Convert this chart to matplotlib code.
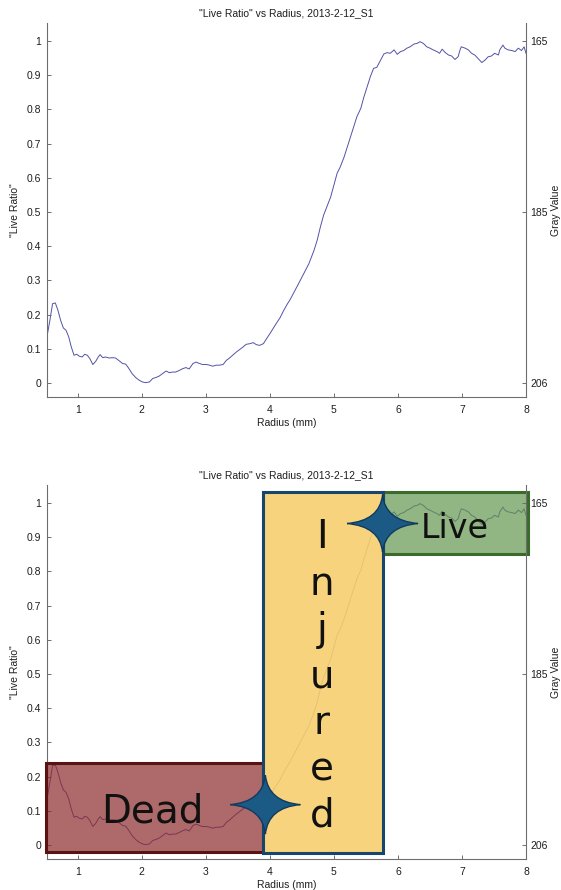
import matplotlib
matplotlib.use("Agg")
import matplotlib.pyplot as plt
from matplotlib.path import Path
from matplotlib.patches import PathPatch, Rectangle
from matplotlib.transforms import ScaledTranslation

plt.rcParams['font.family'] = ['Liberation Sans', 'DejaVu Sans']

# ---------------- data ----------------
radius = [0.524, 0.565, 0.607, 0.650, 0.690, 0.733, 0.775, 0.817, 0.859, 0.900,
          0.942, 0.984, 1.026, 1.068, 1.110, 1.150, 1.190, 1.236, 1.280, 1.320,
          1.350, 1.390, 1.430, 1.490, 1.540, 1.590, 1.640, 1.700, 1.750, 1.800,
          1.850, 1.910, 1.960, 2.010, 2.060, 2.120, 2.170, 2.220, 2.270, 2.320,
          2.380, 2.430, 2.480, 2.530, 2.590, 2.640, 2.690, 2.740, 2.800, 2.850,
          2.900, 2.950, 3.010, 3.060, 3.110, 3.160, 3.210, 3.270, 3.320, 3.370,
          3.420, 3.480, 3.530, 3.580, 3.630, 3.690, 3.740, 3.790, 3.840, 3.900,
          3.950, 4.000, 4.050, 4.100, 4.160, 4.210, 4.270, 4.320, 4.380, 4.450,
          4.530, 4.610, 4.690, 4.740, 4.790, 4.840, 4.900, 4.950, 5.000, 5.050,
          5.100, 5.160, 5.210, 5.260, 5.310, 5.360, 5.420, 5.470, 5.520, 5.570,
          5.620, 5.670, 5.730, 5.780, 5.830, 5.880, 5.940, 5.990, 6.040, 6.090,
          6.140, 6.190, 6.250, 6.300, 6.345, 6.397, 6.450, 6.500, 6.550, 6.610,
          6.650, 6.690, 6.740, 6.790, 6.840, 6.890, 6.940, 6.970, 6.990, 7.050,
          7.100, 7.150, 7.200, 7.250, 7.310, 7.360, 7.410, 7.460, 7.510, 7.570,
          7.590, 7.640, 7.670, 7.720, 7.780, 7.830, 7.880, 7.930, 7.970, 8.000]
live_ratio = [0.140, 0.183, 0.232, 0.234, 0.213, 0.183, 0.161, 0.154, 0.135, 0.105,
              0.081, 0.084, 0.078, 0.076, 0.084, 0.081, 0.071, 0.054, 0.063, 0.076,
              0.083, 0.074, 0.076, 0.073, 0.074, 0.073, 0.066, 0.057, 0.055, 0.042,
              0.027, 0.015, 0.008, 0.003, 0.001, 0.003, 0.013, 0.016, 0.020, 0.027,
              0.035, 0.030, 0.032, 0.032, 0.037, 0.042, 0.045, 0.041, 0.057, 0.061,
              0.057, 0.054, 0.054, 0.052, 0.049, 0.052, 0.052, 0.054, 0.066, 0.073,
              0.081, 0.091, 0.098, 0.105, 0.113, 0.115, 0.118, 0.112, 0.110, 0.115,
              0.130, 0.144, 0.159, 0.174, 0.191, 0.210, 0.230, 0.245, 0.266, 0.291,
              0.320, 0.349, 0.388, 0.418, 0.457, 0.491, 0.520, 0.544, 0.579, 0.613,
              0.632, 0.661, 0.691, 0.720, 0.749, 0.779, 0.803, 0.837, 0.866, 0.896,
              0.920, 0.923, 0.944, 0.962, 0.966, 0.964, 0.974, 0.961, 0.969, 0.972,
              0.979, 0.983, 0.991, 0.993, 0.998, 0.993, 0.983, 0.979, 0.974, 0.969,
              0.964, 0.976, 0.966, 0.959, 0.956, 0.946, 0.954, 0.974, 0.983, 0.979,
              0.974, 0.964, 0.959, 0.949, 0.937, 0.944, 0.954, 0.956, 0.964, 0.959,
              0.974, 0.988, 0.979, 0.974, 0.972, 0.969, 0.979, 0.972, 0.983, 0.964]

title_text = '"Live Ratio" vs Radius, 2013-2-12_S1'
x_ticks = [1, 2, 3, 4, 5, 6, 7, 8]
y_ticks = [0, 0.1, 0.2, 0.3, 0.4, 0.5, 0.6, 0.7, 0.8, 0.9, 1.0]
y_tick_labels = ['0', '0.1', '0.2', '0.3', '0.4', '0.5', '0.6', '0.7', '0.8', '0.9', '1']
gray_tick_pos = [0, 0.5, 1.0]
gray_tick_labels = ['206', '185', '165']

# annotation zones (data coords: x0, x1, y0, y1)
zone_names = ['Dead', 'Injured', 'Live']
zone_boxes = [(0.50, 3.89, -0.020, 0.240),
              (3.89, 5.76, -0.023, 1.033),
              (5.76, 8.03, 0.850, 1.033)]
zone_faces = [(0.55, 0.17, 0.17, 0.70), (0.965, 0.81, 0.43, 0.90), (0.39, 0.59, 0.31, 0.70)]
zone_edges = ['#5a1212', '#17456b', '#3b6b2a']
star_centers = [(3.93, 0.118), (5.76, 0.940)]

XLIM = (0.52, 8.0)
YLIM = (-0.041, 1.0526)

fig = plt.figure(figsize=(5.61, 8.90), dpi=100)

AX_COLOR = '#6e6e6e'
LINE_COLOR = '#5252a8'


def make_axes(rect):
    ax = fig.add_axes(rect)
    ax.plot(radius, live_ratio, color=LINE_COLOR, lw=0.7, zorder=1)
    ax.set_xlim(*XLIM)
    ax.set_ylim(*YLIM)
    ax.set_xticks(x_ticks)
    ax.set_yticks(y_ticks)
    ax.set_yticklabels(y_tick_labels)
    for s in ['top', 'right']:
        ax.spines[s].set_visible(False)
    for s in ['left', 'bottom']:
        ax.spines[s].set_color(AX_COLOR)
        ax.spines[s].set_linewidth(0.8)
    ax.tick_params(direction='in', length=3, width=0.7, color=AX_COLOR,
                   labelsize=7.5, labelcolor='#1e1e1e', pad=4)
    ax.tick_params(axis='x', pad=6)
    ax.set_xlabel('Radius (mm)', fontsize=7.5, labelpad=2, color='#1e1e1e')
    ax.set_ylabel('"Live Ratio"', fontsize=7.5, labelpad=5, color='#1e1e1e')
    ax.set_title(title_text, fontsize=7.5, pad=5, color='#1e1e1e')

    ax2 = ax.twinx()
    ax2.set_ylim(*YLIM)
    ax2.set_yticks(gray_tick_pos)
    ax2.set_yticklabels(gray_tick_labels)
    for s in ['top', 'left', 'bottom']:
        ax2.spines[s].set_visible(False)
    ax2.spines['right'].set_color(AX_COLOR)
    ax2.spines['right'].set_linewidth(0.8)
    ax2.tick_params(direction='in', length=3, width=0.7, color=AX_COLOR,
                    labelsize=7.5, labelcolor='#1e1e1e', pad=3)
    ax2.set_ylabel('Gray Value', fontsize=7.5, labelpad=2.5, color='#1e1e1e')
    return ax, ax2


axL = 47 / 561
axW = 479 / 561
axH = 374 / 890
ax_top, _ = make_axes([axL, (890 - 397) / 890, axW, axH])
ax_bot, ax_bot2 = make_axes([axL, (890 - 859) / 890, axW, axH])

# ---------------- overlays on bottom chart ----------------
for (x0, x1, y0, y1), fc, ec, z in zip(zone_boxes, zone_faces, zone_edges, [3, 4, 3.5]):
    r = Rectangle((x0, y0), x1 - x0, y1 - y0, facecolor=fc, edgecolor=ec,
                  lw=2.2, zorder=z, clip_on=False)
    ax_bot.add_patch(r)


def star_path(hw, hh, c):
    s = 1 / 100.0
    verts = [(hw, 0), (c, c), (0, hh), (-c, c), (-hw, 0), (-c, -c), (0, -hh),
             (c, -c), (hw, 0), (hw, 0)]
    verts = [(a * s, b * s) for a, b in verts]
    codes = [Path.MOVETO, Path.CURVE3, Path.CURVE3, Path.CURVE3, Path.CURVE3,
             Path.CURVE3, Path.CURVE3, Path.CURVE3, Path.CURVE3, Path.CLOSEPOLY]
    return Path(verts, codes)


for (sx, sy), (hw, hh) in zip(star_centers, [(35, 29.5), (35.5, 28.5)]):
    tr = fig.dpi_scale_trans + ScaledTranslation(sx, sy, ax_bot.transData)
    p = PathPatch(star_path(hw, hh, 2.8), facecolor='#1c5a86', edgecolor='#0f3a5e',
                  lw=1.0, transform=tr, zorder=8, clip_on=False)
    ax_bot.add_patch(p)

BIG_FONT = 'DejaVu Sans'
ax_bot.text(2.17, 0.067, 'Dead', fontsize=28, family=BIG_FONT, ha='center',
            va='baseline', color='#111111', zorder=7)
ax_bot.text(6.88, 0.898, 'Live', fontsize=24, family=BIG_FONT, ha='center',
            va='baseline', color='#111111', zorder=7, clip_on=False)

injured_x = 4.81
first_base = (843 - 547) / 341
step = 46.3 / 341
for i, ch in enumerate('Injured'):
    ax_bot.text(injured_x, first_base - i * step, ch, fontsize=28, family=BIG_FONT,
                ha='center', va='baseline', color='#111111', zorder=7)

fig.savefig('out.png', dpi=100)
